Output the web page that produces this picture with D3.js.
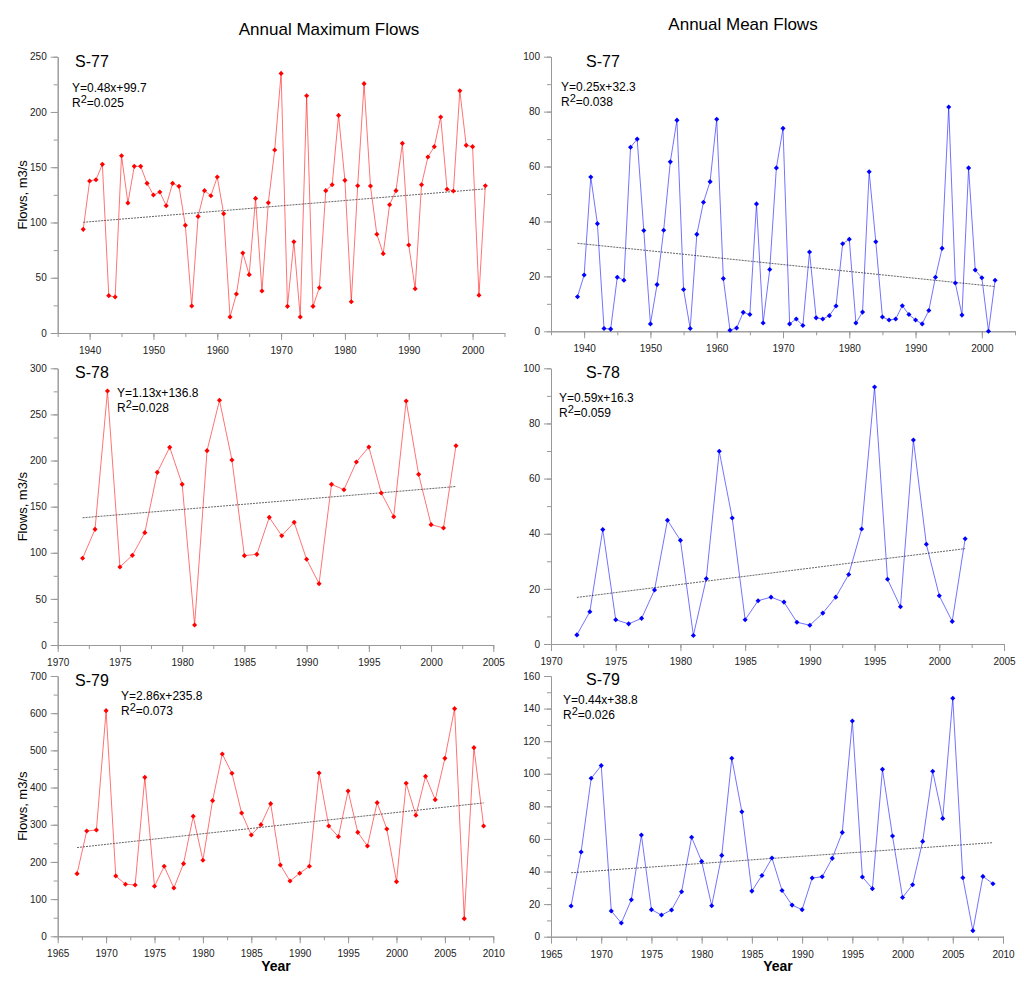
<!DOCTYPE html>
<html>
<head>
<meta charset="utf-8">
<title>Annual Flows</title>
<script src="https://d3js.org/d3.v7.min.js"></script>
<style>
    body { margin: 0; background: #fff; }
    svg { font-family: "Liberation Sans", Arial, sans-serif; }
    .axis path, .axis line { stroke: #999; }
    .axis text { fill: #222; font-size: 10px; }
</style>
</head>
<body>
<svg id="chart" width="1024" height="985"></svg>
<script>
// ---- data ----
var s77Start = 1939;
var s77Max = [93.8,137.5,138.7,152.6,33.8,32.6,160.4,117.6,150.8,150.8,135.4,124.8,127.6,115.2,135.4,132.7,97.4,24.4,105.5,128.8,124.2,141.1,108,14.5,35.3,72.4,52.8,121.8,38,117.9,165.6,234.9,24.1,82.6,14.5,214.7,24.1,41,128.8,134.2,196.9,138.1,28.3,133.3,225.6,133,89.3,71.8,116.1,128.8,171.6,79.6,40.1,134.2,159.2,168.6,195.4,130,128.5,219.2,169.8,168.6,34.1,133.3];
var s77Mean = [12.6,20.5,56.2,39.2,1.0,0.8,19.7,18.6,67,70,36.7,2.7,17,36.8,61.7,76.9,15.2,1,35.3,47,54.5,77.2,19.2,0.4,1.2,6.9,6.1,46.4,3,22.5,59.5,73.9,2.7,4.5,2.1,28.9,4.9,4.5,5.7,9.2,31.9,33.5,3,7,58.1,32.6,5.2,4.1,4.5,9.3,6.1,4.1,2.7,7.6,19.7,30.2,81.7,17.6,5.9,59.5,22.3,19.5,0,18.6];

var s78Start = 1972;
var s78Max = [94,125.4,275.4,84.6,97.2,121.8,187.2,214.3,174.2,21.7,210.7,265.3,200.6,96.9,98.3,138.4,118.5,133,92.9,66.5,174.2,168.4,198.4,214.7,164.8,139.1,264.5,185,130.5,126.9,216.1];
var s78Mean = [3.3,11.7,41.5,8.8,7.3,9.3,19.6,44.9,37.6,3.1,23.7,69.9,45.7,8.8,15.7,17,15.2,7.9,6.8,11.2,17,25.2,41.7,93.2,23.5,13.5,74,36.2,17.5,8.2,38.2];

var s79Start = 1967;
var s79Max = [168.5,283.2,285.9,606.8,162.2,139.8,138,427.5,134.4,188.2,130,195.4,322.7,204.4,364.8,490.3,438.3,331.6,272.5,300.3,356.7,191.8,148.8,169.4,188.2,439.2,296.7,268,390.8,279.6,242.9,359.4,288.6,147,411.4,325.4,430.2,367.5,478.6,612.2,47.5,507.3,296.7];
var s79Mean = [18.8,52,97.2,105,15.8,8.4,22.7,62.4,16.6,13.3,16.4,27.6,61,46.2,19,49.9,109.5,76.7,28,37.6,48.3,28.4,19.4,16.6,36,36.8,48.1,64,132.4,36.6,29.5,102.7,61.8,24.1,31.9,58.5,101.5,72.6,146.3,36.2,3.7,37,32.5];

// trend lines: y = slope * i + intercept, i = 1..n
var trendSlopes     = [0.48, -0.25, 1.13, 0.59, 2.86, 0.44];
var trendIntercepts = [99.7, 32.3, 136.8, 16.3, 235.8, 38.8];
var eqLabels = ["Y=0.48x+99.7", "Y=0.25x+32.3", "Y=1.13x+136.8", "Y=0.59x+16.3", "Y=2.86x+235.8", "Y=0.44x+38.8"];
var r2Labels = ["0.025", "0.038", "0.028", "0.059", "0.073", "0.026"];
var stationNames = ["S-77", "S-77", "S-78", "S-78", "S-79", "S-79"];

// tick labels on the year axes
var yearTicksTop = [1940, 1950, 1960, 1970, 1980, 1990, 2000];
var yearTicksMid = [1970, 1975, 1980, 1985, 1990, 1995, 2000, 2005];
var yearTicksBot = [1965, 1970, 1975, 1980, 1985, 1990, 1995, 2000, 2005, 2010];

// ---- panel layout ----
var panels = [
    {data: s77Max,  start: s77Start, color: "#ff0000", x0: 57.7, x1: 504.5, yb: 333,   yt: 56.7,  xd: [1935, 2005], yMax: 250, yStep: 50,  xMinor: 5,   xTicks: yearTicksTop,
     name: [75, 67],  eq: [72, 92],    left: true},
    {data: s77Mean, start: s77Start, color: "#0000ff", x0: 551,  x1: 1015,  yb: 331.3, yt: 56.7,  xd: [1935, 2005], yMax: 100, yStep: 20,  xMinor: 5,   xTicks: yearTicksTop,
     name: [586, 67], eq: [561, 91],   left: false},
    {data: s78Max,  start: s78Start, color: "#ff0000", x0: 57.7, x1: 493.3, yb: 645,   yt: 368.3, xd: [1970, 2005], yMax: 300, yStep: 50,  xMinor: 2.5, xTicks: yearTicksMid,
     name: [75, 378], eq: [117, 397],  left: true},
    {data: s78Mean, start: s78Start, color: "#0000ff", x0: 551,  x1: 1004,  yb: 644,   yt: 368.3, xd: [1970, 2005], yMax: 100, yStep: 20,  xMinor: 2.5, xTicks: yearTicksMid,
     name: [586, 378], eq: [559, 401.5], left: false},
    {data: s79Max,  start: s79Start, color: "#ff0000", x0: 57.7, x1: 493.3, yb: 936.3, yt: 676,   xd: [1965, 2010], yMax: 700, yStep: 100, xMinor: 2.5, xTicks: yearTicksBot,
     name: [75, 686], eq: [121, 700],  left: true},
    {data: s79Mean, start: s79Start, color: "#0000ff", x0: 551,  x1: 1003,  yb: 936.7, yt: 676,   xd: [1965, 2010], yMax: 160, yStep: 20,  xMinor: 2.5, xTicks: yearTicksBot,
     name: [586, 685], eq: [563, 704],  left: false}
];

var svg = d3.select("#chart");

// column titles
svg.append("text").attr("x", 329).attr("y", 35).attr("text-anchor", "middle")
    .style("font-size", "17px").text("Annual Maximum Flows");
svg.append("text").attr("x", 743).attr("y", 30).attr("text-anchor", "middle")
    .style("font-size", "17px").text("Annual Mean Flows");

panels.forEach(function(p, k){
    var x = d3.scaleLinear().domain(p.xd).range([p.x0, p.x1]);
    var y = d3.scaleLinear().domain([0, p.yMax]).range([p.yb, p.yt]);
    var g = svg.append("g");

    // minor ticks
    g.append("g").attr("class", "axis").attr("transform", "translate(0," + p.yb + ")")
        .call(d3.axisBottom(x).tickValues(d3.range(p.xd[0], p.xd[1] + 0.01, p.xMinor))
            .tickSize(4).tickSizeOuter(0).tickFormat(""));
    g.append("g").attr("class", "axis").attr("transform", "translate(" + p.x0 + ",0)")
        .call(d3.axisLeft(y).tickValues(d3.range(0, p.yMax + 0.01, p.yStep / 2))
            .tickSize(4).tickSizeOuter(0).tickFormat(""));

    // major ticks with labels
    g.append("g").attr("class", "axis").attr("transform", "translate(0," + p.yb + ")")
        .call(d3.axisBottom(x).tickValues(p.xTicks)
            .tickSize(7).tickPadding(7).tickSizeOuter(0).tickFormat(d3.format("d")));
    g.append("g").attr("class", "axis").attr("transform", "translate(" + p.x0 + ",0)")
        .call(d3.axisLeft(y).tickValues(d3.range(0, p.yMax + 0.01, p.yStep))
            .tickSize(7).tickPadding(4).tickSizeOuter(0));

    var pts = p.data.map(function(v, i){ return {year: p.start + i, v: v}; });

    // trend line
    var n = p.data.length;
    var t0 = trendSlopes[k] * 1 + trendIntercepts[k];
    var t1 = trendSlopes[k] * n + trendIntercepts[k];
    g.append("line")
        .attr("x1", x(p.start)).attr("y1", y(t0))
        .attr("x2", x(p.start + n - 1)).attr("y2", y(t1))
        .attr("stroke", "#555").attr("stroke-width", 0.9)
        .attr("stroke-dasharray", "2,1");

    // series line
    var line = d3.line().x(function(d){ return x(d.year); }).y(function(d){ return y(d.v); });
    g.append("path").datum(pts)
        .attr("fill", "none").attr("stroke", p.color).attr("stroke-opacity", 0.55)
        .attr("stroke-width", 1).attr("d", line);

    // markers
    var sym = d3.symbol().type(d3.symbolSquare).size(13);
    g.selectAll(".pt").data(pts).enter().append("path")
        .attr("d", sym)
        .attr("transform", function(d){ return "translate(" + x(d.year) + "," + y(d.v) + ") rotate(45)"; })
        .attr("fill", p.color);

    // labels
    g.append("text").attr("x", p.name[0]).attr("y", p.name[1])
        .style("font-size", "16px").text(stationNames[k]);
    g.append("text").attr("x", p.eq[0]).attr("y", p.eq[1])
        .style("font-size", "12px").text(eqLabels[k]);
    var r2 = g.append("text").attr("x", p.eq[0]).attr("y", p.eq[1] + 15).style("font-size", "12px");
    r2.append("tspan").text("R");
    r2.append("tspan").attr("dy", -4).style("font-size", "11px").text("2");
    r2.append("tspan").attr("dy", 4).text("=" + r2Labels[k]);

    if (p.left) {
        var cy = (p.yb + p.yt) / 2;
        g.append("text").attr("transform", "translate(27," + cy + ") rotate(-90)")
            .attr("text-anchor", "middle").style("font-size", "13px").text("Flows, m3/s");
    }
});

// x-axis titles
svg.append("text").attr("x", 276).attr("y", 971).attr("text-anchor", "middle")
    .style("font-size", "14px").style("font-weight", "bold").text("Year");
svg.append("text").attr("x", 778).attr("y", 971).attr("text-anchor", "middle")
    .style("font-size", "14px").style("font-weight", "bold").text("Year");
</script>
</body>
</html>
